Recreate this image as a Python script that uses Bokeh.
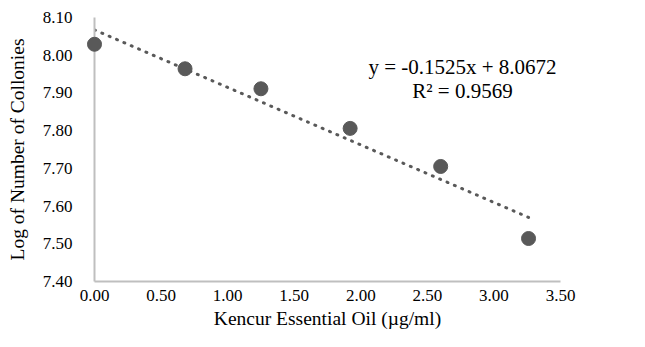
from bokeh.plotting import figure
from bokeh.models import Range1d, FixedTicker, NumeralTickFormatter, Label, ColumnDataSource
from bokeh.embed import file_html
from bokeh.resources import INLINE

# Data
concentration = [0.00, 0.68, 1.25, 1.92, 2.60, 3.26]
log_colonies = [8.029, 7.964, 7.911, 7.806, 7.705, 7.514]

slope = -0.1525
intercept = 8.0672
r_squared = 0.9569

x_ticks = [0.0, 0.5, 1.0, 1.5, 2.0, 2.5, 3.0, 3.5]
y_ticks = [7.4, 7.5, 7.6, 7.7, 7.8, 7.9, 8.0, 8.1]

FONT = "Liberation Serif"
GRAY = "#595959"

p = figure(width=645, height=347, output_backend="svg", toolbar_location=None,
           x_range=Range1d(0, 3.5), y_range=Range1d(7.4, 8.1),
           min_border_left=94, min_border_right=85, min_border_top=17, min_border_bottom=66)
p.outline_line_color = None
p.xgrid.grid_line_color = None
p.ygrid.grid_line_color = None
p.background_fill_color = "white"
p.border_fill_color = "white"

# trendline from displayed equation over data range
x0, x1 = min(concentration), max(concentration)
trend = ColumnDataSource(dict(x=[x0, x1], y=[slope * x0 + intercept, slope * x1 + intercept]))
p.line("x", "y", source=trend, line_color=GRAY, line_width=3, line_dash="1 7", line_cap="round")

src = ColumnDataSource(dict(x=concentration, y=log_colonies))
p.scatter("x", "y", source=src, size=14, fill_color=GRAY, line_color=GRAY, level="overlay")

for ax in (p.xaxis[0], p.yaxis[0]):
    ax.axis_line_color = "#bfbfbf"
    ax.axis_line_width = 2
    ax.major_tick_line_color = None
    ax.minor_tick_line_color = None
    ax.major_label_text_font = FONT
    ax.major_label_text_font_size = "17px"
    ax.major_label_text_color = "#000000"
    ax.axis_label_text_font = FONT
    ax.axis_label_text_font_size = "19.5px"
    ax.axis_label_text_font_style = "normal"
    ax.axis_label_text_color = "#000000"
    ax.formatter = NumeralTickFormatter(format="0.00")

p.xaxis[0].ticker = FixedTicker(ticks=x_ticks)
p.yaxis[0].ticker = FixedTicker(ticks=y_ticks)
p.xaxis[0].axis_label = "Kencur Essential Oil (\u00b5g/ml)"
p.yaxis[0].axis_label = "Log of Number of Collonies"
p.xaxis[0].major_label_standoff = 2
p.yaxis[0].major_label_standoff = 16
p.xaxis[0].axis_label_standoff = 4
p.yaxis[0].axis_label_standoff = 12

eq1 = Label(x=2.764, y=7.970, text=f"y = {slope:.4f}x + {intercept:.4f}",
            text_font=FONT, text_font_size="21px", text_align="center",
            text_baseline="middle", text_color="#000000")
eq2 = Label(x=2.764, y=7.906, text=f"R\u00b2 = {r_squared:.4f}",
            text_font=FONT, text_font_size="21px", text_align="center",
            text_baseline="middle", text_color="#000000")
p.add_layout(eq1)
p.add_layout(eq2)

open("out.html", "w").write(file_html(p, INLINE))
